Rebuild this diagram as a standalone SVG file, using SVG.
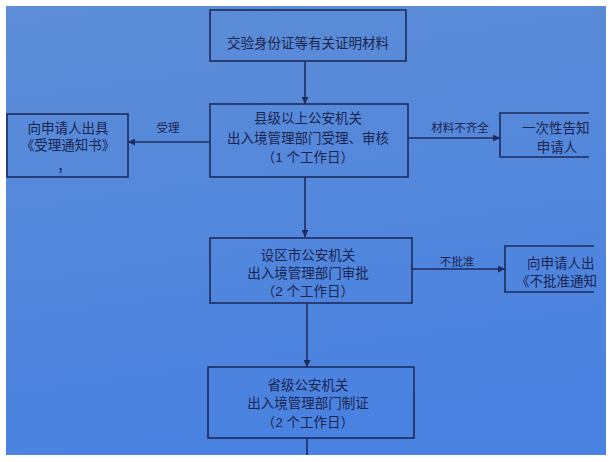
<svg xmlns="http://www.w3.org/2000/svg" width="612" height="462" viewBox="0 0 612 462">
<style>
.box{fill:none;stroke:#1e2b5c;stroke-width:1.6}
.ln{fill:none;stroke:#1e2b5c;stroke-width:1.6}
.t{font-family:"Liberation Sans","Noto Sans CJK SC",sans-serif;font-size:13.5px;fill:#1a2550;text-anchor:middle}
.l{text-anchor:start}
.s{font-family:"Liberation Sans","Noto Sans CJK SC",sans-serif;font-size:11.5px;fill:#1a2550;text-anchor:middle}
</style>
<defs>
<linearGradient id="bg" x1="0" y1="0" x2="0.2" y2="1">
<stop offset="0" stop-color="#5d8dd6"/>
<stop offset="1" stop-color="#4a82e1"/>
</linearGradient>
<marker id="ah" viewBox="0 0 10 10" refX="10" refY="5" markerWidth="7" markerHeight="7" markerUnits="userSpaceOnUse" orient="auto">
<path d="M0,0 L10,5 L0,10 z" fill="#1e2b5c"/>
</marker>
</defs>
<rect x="0" y="0" width="612" height="462" fill="#ffffff"/>
<rect x="6" y="6" width="600" height="449" fill="url(#bg)"/>

<g id="connectors">
<line class="ln" x1="305" y1="61" x2="305" y2="104" marker-end="url(#ah)"/>
<line class="ln" x1="210" y1="142" x2="128" y2="142" marker-end="url(#ah)"/>
<line class="ln" x1="408" y1="138" x2="500" y2="138" marker-end="url(#ah)"/>
<line class="ln" x1="305" y1="177" x2="305" y2="237" marker-end="url(#ah)"/>
<line class="ln" x1="412" y1="269" x2="505" y2="269" marker-end="url(#ah)"/>
<line class="ln" x1="307" y1="303" x2="307" y2="367" marker-end="url(#ah)"/>
<line class="ln" x1="307" y1="438" x2="307" y2="455"/>
<text class="s" x="168" y="132">受理</text>
<text class="s" x="460" y="132">材料不齐全</text>
<text class="s" x="457" y="266">不批准</text>
</g>

<g id="n1">
<rect class="box" x="210" y="10" width="196" height="51"/>
<text class="t" x="308" y="48">交验身份证等有关证明材料</text>
</g>

<g id="n2">
<rect class="box" x="210" y="104" width="198" height="73"/>
<text class="t" x="308" y="123">县级以上公安机关</text>
<text class="t" x="308" y="143">出入境管理部门受理、审核</text>
<text class="t" x="308" y="162">（1 个工作日）</text>
</g>

<g id="n_left">
<rect class="box" x="7" y="114" width="121" height="63"/>
<text class="t" x="68" y="133">向申请人出具</text>
<text class="t" x="68" y="150">《受理通知书》</text>
<text class="t" x="64" y="171">，</text>
</g>

<g id="n_right1">
<path class="box" d="M589,113 H500 V157 H589"/>
<text class="t l" x="522" y="133">一次性告知</text>
<text class="t" x="557" y="152">申请人</text>
</g>

<g id="n3">
<rect class="box" x="210" y="238" width="202" height="65"/>
<text class="t" x="308" y="260">设区市公安机关</text>
<text class="t" x="308" y="278">出入境管理部门审批</text>
<text class="t" x="308" y="296">（2 个工作日）</text>
</g>

<g id="n_right2">
<path class="box" d="M594,246 H505 V292 H594"/>
<text class="t l" x="527" y="268">向申请人出</text>
<text class="t l" x="516" y="286">《不批准通知</text>
</g>

<g id="n4">
<rect class="box" x="208" y="367" width="206" height="71"/>
<text class="t" x="308" y="390">省级公安机关</text>
<text class="t" x="308" y="408">出入境管理部门制证</text>
<text class="t" x="308" y="427">（2 个工作日）</text>
</g>
</svg>
